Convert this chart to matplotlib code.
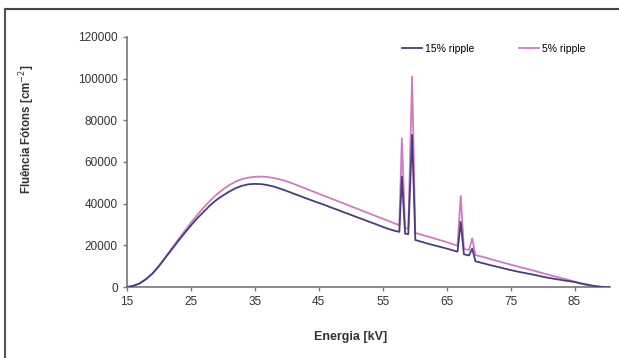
import matplotlib.pyplot as plt
from matplotlib.lines import Line2D

plt.rcParams['font.family'] = ['Liberation Sans', 'DejaVu Sans']

# energy grid [kV], 1 kV steps with extra points around the tungsten lines
energia = [15, 16, 17, 18, 19, 20, 21, 22, 23, 24, 25, 26, 27, 28, 29, 30,
           31, 32, 33, 34, 35, 36, 37, 38, 39, 40, 41, 42, 43, 44, 45, 46,
           47, 48, 49, 50, 51, 52, 53, 54, 55, 56, 57, 57.6, 58.0, 58.5,
           59.0, 59.6, 60.1, 61, 62, 63, 64, 65, 66, 66.7, 67.2, 67.7, 68,
           68.5, 69.0, 69.5, 70, 71, 72, 73, 74, 75, 76, 77, 78, 79, 80, 81,
           82, 83, 84, 85, 86, 87, 88, 89, 90, 90.5]

ripple15 = [0, 600, 1800, 3800, 6500, 10000, 14000, 18000, 22000, 25800,
            29500, 33000, 36100, 39200, 41800, 43900, 45800, 47400, 48600,
            49300, 49500, 49400, 48900, 48200, 47200, 46100, 44900, 43800,
            42600, 41500, 40400, 39300, 38100, 37000, 35800, 34700, 33500,
            32400, 31200, 30100, 28900, 27800, 26900, 26500, 53000, 25600,
            25400, 73000, 22600, 21800, 20900, 20100, 19300, 18500, 17600,
            17000, 31300, 15800, 15500, 15200, 18500, 12400, 12000, 11200,
            10400, 9700, 8900, 8200, 7500, 6900, 6300, 5700, 5000, 4400, 3900,
            3400, 2900, 2500, 1800, 1200, 600, 200, 0, 0]

ripple5 = [0, 600, 1800, 3900, 6600, 10200, 14300, 18500, 22700, 26800,
           30800, 34600, 38100, 41400, 44300, 46800, 48900, 50600, 51800,
           52500, 52900, 53000, 52800, 52300, 51600, 50700, 49600, 48400,
           47200, 46000, 44800, 43600, 42400, 41200, 40000, 38800, 37600,
           36400, 35200, 34000, 32800, 31600, 30400, 29700, 71400, 28300,
           28000, 101000, 26000, 25200, 24300, 23400, 22500, 21600, 20600,
           19800, 43700, 18400, 18100, 17800, 23400, 15400, 15000, 14200,
           13300, 12500, 11600, 10800, 10000, 9200, 8400, 7600, 6700, 5900,
           5100, 4300, 3500, 2600, 1600, 900, 400, 150, 50, 0]

xticks = [15, 25, 35, 45, 55, 65, 75, 85]
yticks = [0, 20000, 40000, 60000, 80000, 100000, 120000]

c15 = '#4a3d7a'
c5 = '#cc7cc2'

fig = plt.figure(figsize=(6.19, 3.58), dpi=100)
ax = fig.add_axes([0.205, 0.198, 0.78, 0.699])

ax.plot(energia, ripple5, color=c5, lw=1.3, zorder=2)
ax.plot(energia, ripple15, color=c15, lw=1.3, zorder=3)

ax.set_xlim(15, 90.5)
ax.set_ylim(0, 120000)
ax.set_xticks(xticks)
ax.set_yticks(yticks)
ax.tick_params(labelsize=8.5, colors='#333333', length=3, width=1, direction='out')
ax.tick_params(axis='both', color='#777777')
for s in ['top', 'right']:
    ax.spines[s].set_visible(False)
for s in ['left', 'bottom']:
    ax.spines[s].set_color('#777777')
    ax.spines[s].set_linewidth(1.2)

ax.set_xlabel('Energia [kV]', fontsize=9, fontweight='bold', color='#333333')
ax.xaxis.set_label_coords(0.463, -0.176)
ax.set_ylabel('Fluência Fótons [cm$^{-2}$]', fontsize=8.3, fontweight='bold', color='#333333')
ax.yaxis.set_label_coords(-0.186, 0.63)

handles = [Line2D([], [], color=c15, lw=1.3), Line2D([], [], color=c5, lw=1.3)]
ax.legend(handles, ['15% ripple', '5% ripple'], ncol=2, frameon=False,
          fontsize=7.5, handlelength=1.9, handletextpad=0.3, columnspacing=4.3,
          loc='upper right', bbox_to_anchor=(0.97, 1.01))

# image border (top and left edges)
fig.add_artist(Line2D([0.0073, 1.0], [0.975, 0.975], color='#444444', lw=1.5))
fig.add_artist(Line2D([0.0073, 0.0073], [0.0, 0.975], color='#555555', lw=1.5))

fig.savefig('out.png', dpi=100)
